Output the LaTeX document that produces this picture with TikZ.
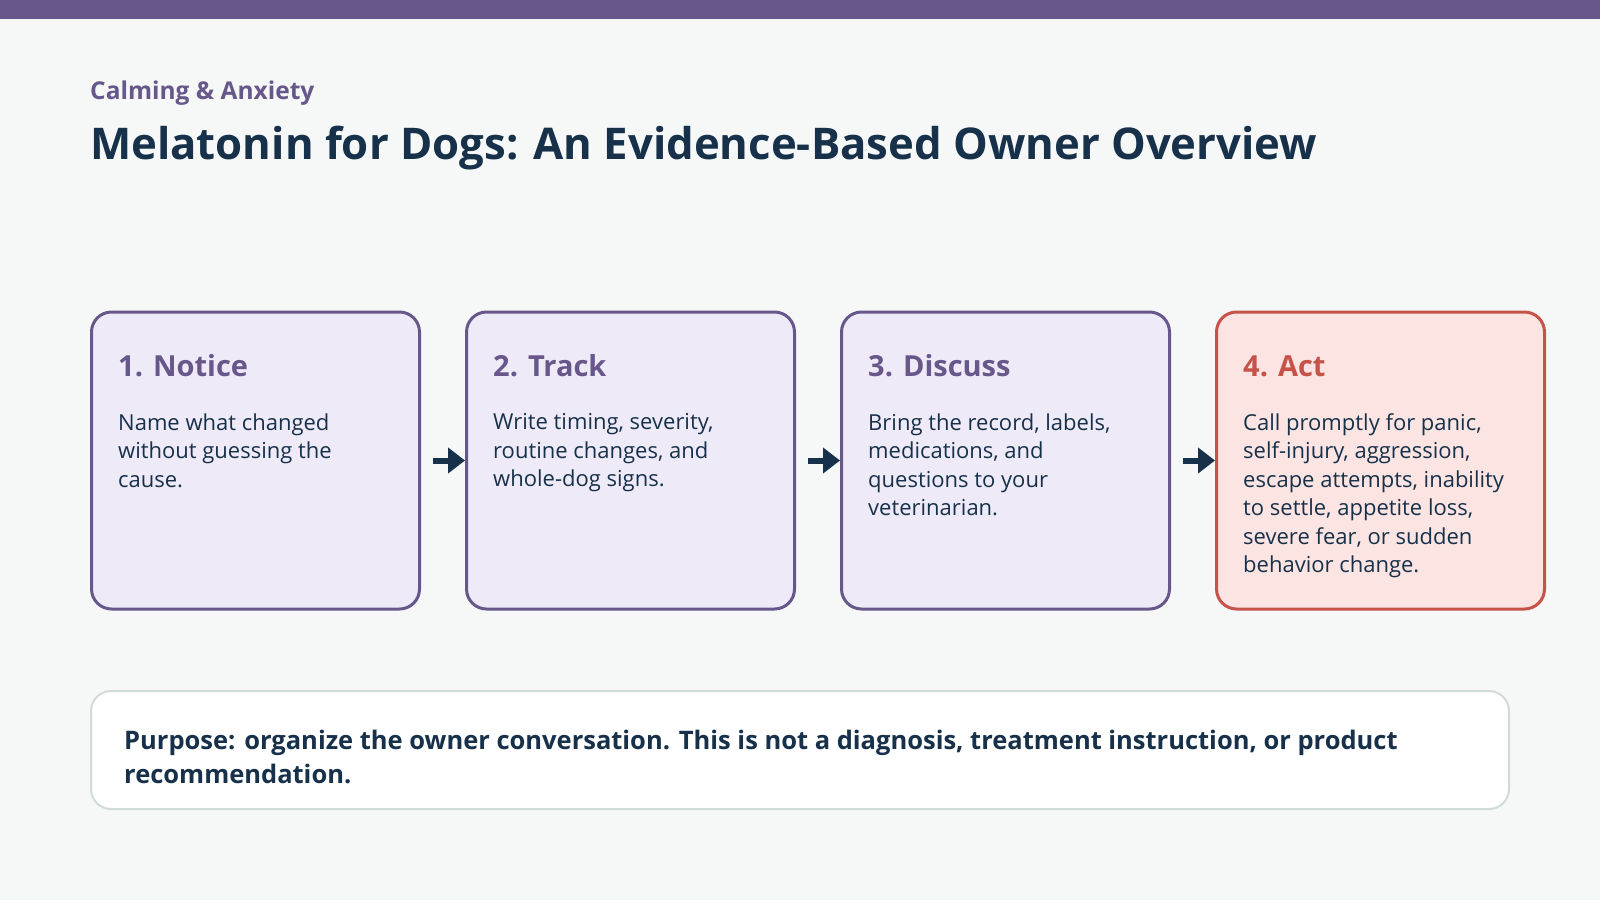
\documentclass[tikz,border=0pt]{standalone}
\usepackage{fontspec}
\setmainfont{Open Sans}
\usepackage{xcolor}
\usetikzlibrary{arrows.meta, positioning}
\definecolor{pagebg}{HTML}{F6F8F8}
\definecolor{calmpurple}{HTML}{68578A}
\definecolor{lightpurple}{HTML}{EFEAF7}
\definecolor{inknavy}{HTML}{17314B}
\definecolor{alertred}{HTML}{C6524A}
\definecolor{lightred}{HTML}{FBE4E1}
\definecolor{softline}{HTML}{CFDCDA}
\tikzset{
  stage/.style={rectangle, draw=calmpurple, fill=lightpurple, line width=3pt,
    rounded corners=20pt, minimum width=328pt, minimum height=297pt},
  alert/.style={stage, draw=alertred, fill=lightred},
  head/.style={anchor=base west, inner sep=0pt, text=calmpurple,
    font=\fontsize{29}{34}\selectfont\bfseries},
  body/.style={anchor=north west, inner sep=0pt, text=inknavy, align=left,
    font=\fontsize{22}{28.4}\selectfont},
  note/.style={rectangle, draw=softline, fill=white, line width=2pt,
    rounded corners=20pt, minimum width=1418pt, minimum height=118pt},
  arrow/.style={-{Triangle[length=17pt,width=25pt]}, line width=6pt, inknavy}
}

\begin{document}
\begin{tikzpicture}[x=1pt, y=-1pt]
  \fill[pagebg] (0,0) rectangle (1600,900);
  \fill[calmpurple] (0,0) rectangle (1600,19);

  \node[anchor=base west, inner sep=0pt, text=calmpurple, font=\fontsize{24.5}{29}\selectfont\bfseries]
    (kicker) at (90,99) {Calming \& Anxiety};
  \node[anchor=base west, inner sep=0pt, text=inknavy, font=\fontsize{43.7}{52}\selectfont\bfseries]
    (title) at (90,159) {Melatonin for Dogs: An Evidence-Based Owner Overview};

  % the four steps
  \node[stage] (notice) at (255.5,460.5) {};
  \node[stage] (track) at (630.5,460.5) {};
  \node[stage] (discuss) at (1005.5,460.5) {};
  \node[alert] (act) at (1380.5,460.5) {};

  \node[head] (noticeh) at ([xshift=28pt,yshift=-66pt]notice.north west) {1. Notice};
  \node[body] (noticet) at ([xshift=28pt,yshift=-103pt]notice.north west)
    {Name what changed\\without guessing the\\cause.};
  \node[head] (trackh) at ([xshift=28pt,yshift=-66pt]track.north west) {2. Track};
  \node[body] (trackt) at ([xshift=28pt,yshift=-103pt]track.north west)
    {Write timing, severity,\\routine changes, and\\whole-dog signs.};
  \node[head] (discussh) at ([xshift=28pt,yshift=-66pt]discuss.north west) {3. Discuss};
  \node[body] (discusst) at ([xshift=28pt,yshift=-103pt]discuss.north west)
    {Bring the record, labels,\\medications, and\\questions to your\\veterinarian.};
  \node[head, text=alertred] (acth) at ([xshift=28pt,yshift=-66pt]act.north west) {4. Act};
  \node[body] (actt) at ([xshift=28pt,yshift=-103pt]act.north west)
    {Call promptly for panic,\\self-injury, aggression,\\escape attempts, inability\\to settle, appetite loss,\\severe fear, or sudden\\behavior change.};

  \draw[arrow] ([xshift=12pt]notice.east) -- (track.west);
  \draw[arrow] ([xshift=12pt]track.east) -- (discuss.west);
  \draw[arrow] ([xshift=12pt]discuss.east) -- (act.west);

  % purpose note
  \node[note] (purpose) at (800,750) {};
  \node[anchor=base west, inner sep=0pt, text=inknavy, align=left,
    font=\fontsize{25.5}{34}\selectfont\bfseries] (purposet) at ([xshift=34pt,yshift=-93pt]purpose.north west)
    {Purpose: organize the owner conversation. This is not a diagnosis, treatment instruction, or product\\recommendation.};
\end{tikzpicture}
\end{document}
